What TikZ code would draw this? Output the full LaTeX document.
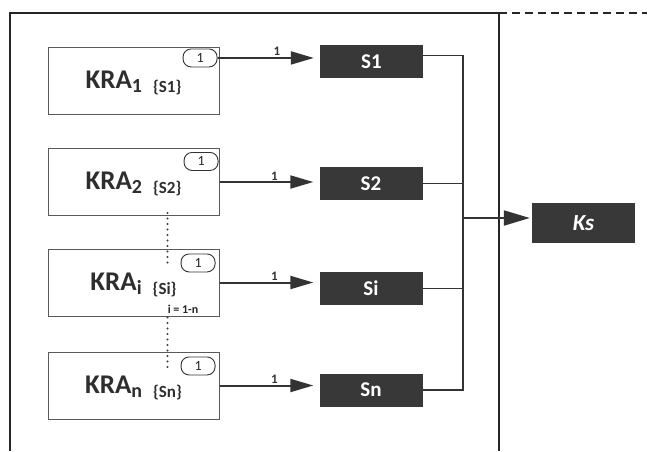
\documentclass[tikz,border=0pt]{standalone}
\usepackage{fontspec}
\setmainfont{Carlito}
\usetikzlibrary{arrows.meta, positioning}

\newcommand{\kralabel}[2]{KRA\raisebox{-4pt}{\fontsize{20}{20}\selectfont #1}\hspace{11pt}\raisebox{-4pt}{\fontsize{17}{17}\selectfont\{#2\}}}

\begin{document}
\begin{tikzpicture}[
  x=1pt, y=-1pt,
  every node/.style={font=\bfseries},
  kra/.style={draw=black!65, line width=1pt, fill=white, minimum width=171pt, minimum height=67pt, inner sep=0pt, text height=20pt, text depth=5pt, text=black!82, font=\bfseries\fontsize{27}{27}\selectfont},
  badge/.style={draw=black!80, line width=0.9pt, fill=white, rounded corners=8pt, minimum width=34pt, minimum height=18pt, inner sep=0pt, text=black!85, font=\fontsize{14}{14}\selectfont},
  sbox/.style={fill=black!78, minimum width=103pt, minimum height=33pt, inner sep=0pt, text=white, font=\bfseries\fontsize{21}{21}\selectfont},
  ksbox/.style={sbox, minimum height=40pt, font=\bfseries\itshape\fontsize{23}{23}\selectfont},
  arrow/.style={-{Triangle[length=23pt, width=13pt]}, line width=2pt, draw=black!80, shorten >=6pt},
  wire/.style={line width=1.4pt, draw=black!80},
  lbl/.style={font=\bfseries\fontsize{13}{13}\selectfont, text=black!80, inner sep=1pt},
  rng/.style={font=\bfseries\fontsize{12}{12}\selectfont, text=black!85, inner sep=0pt},
  dots/.style={line width=2.4pt, draw=black!75, dash pattern=on 0pt off 5.5pt, line cap=round},
  frame/.style={line width=1.1pt, draw=black!85}
]
\useasboundingbox (0,0) rectangle (647,451);

% === FRAME ===
\draw[frame] (10,451) -- (10,13) -- (499,13) -- (499,451);
\draw[frame, dash pattern=on 8pt off 5pt] (499,13) -- (647,13);

% === KRA BOXES ===
\node[kra] (kra1) at (133.5,80.5)  {\kralabel{1}{S1}};
\node[kra] (kra2) at (133.5,182)   {\kralabel{2}{S2}};
\node[kra] (krai) at (133.5,282.5) {\kralabel{i}{Si}};
\node[kra] (kran) at (133.5,385.5) {\kralabel{n}{Sn}};

\node[badge, below left=2pt and 2pt of kra1.north east, anchor=north east] (b1) {1};
\node[badge, below left=4pt and 1pt of kra2.north east, anchor=north east] (b2) {1};
\node[badge, below left=5pt and 4pt of krai.north east, anchor=north east] (bi) {1};
\node[badge, below left=5pt and 4pt of kran.north east, anchor=north east] (bn) {1};
\node[rng, above left=3pt and 21pt of krai.south east, anchor=south east] (range) {i = 1-n};

% dotted run between the boxes
\draw[dots] ([xshift=34pt,yshift=3pt]kra2.south) -- ([xshift=34pt,yshift=-15pt]krai.north);
\draw[dots] ([xshift=34pt,yshift=-1pt]krai.south) -- ([xshift=34pt,yshift=-20pt]kran.north);

% === S BOXES ===
\node[sbox] (s1) at (371.5,61.5) {S1};
\node[sbox] (s2) at (371,183.5)  {S2};
\node[sbox] (si) at (371,288.5)  {Si};
\node[sbox] (sn) at (371,390)    {Sn};

\draw[arrow] (b1.east)   -- node[lbl, pos=0.58, above] {1} (b1.east -| s1.west);
\draw[arrow] (kra2.east) -- node[lbl, pos=0.55, above] {1} (kra2.east -| s2.west);
\draw[arrow] (krai.east) -- node[lbl, pos=0.55, above] {1} (krai.east -| si.west);
\draw[arrow] (kran.east) -- node[lbl, pos=0.55, above] {1} (kran.east -| sn.west);

% === BUS TO Ks ===
\node[ksbox] (ks) at (583.5,223) {Ks};
\coordinate (bus) at (463,218);

\draw[wire] ([yshift=6pt]s1.east) -- ([yshift=6pt]s1.east -| bus) -- (sn.east -| bus) -- (sn.east);
\draw[wire] (s2.east) -- (s2.east -| bus);
\draw[wire] (si.east) -- (si.east -| bus);
\draw[arrow, -{Triangle[length=26pt, width=15pt]}, shorten >=2pt] (bus) -- (bus -| ks.west);

\end{tikzpicture}
\end{document}
